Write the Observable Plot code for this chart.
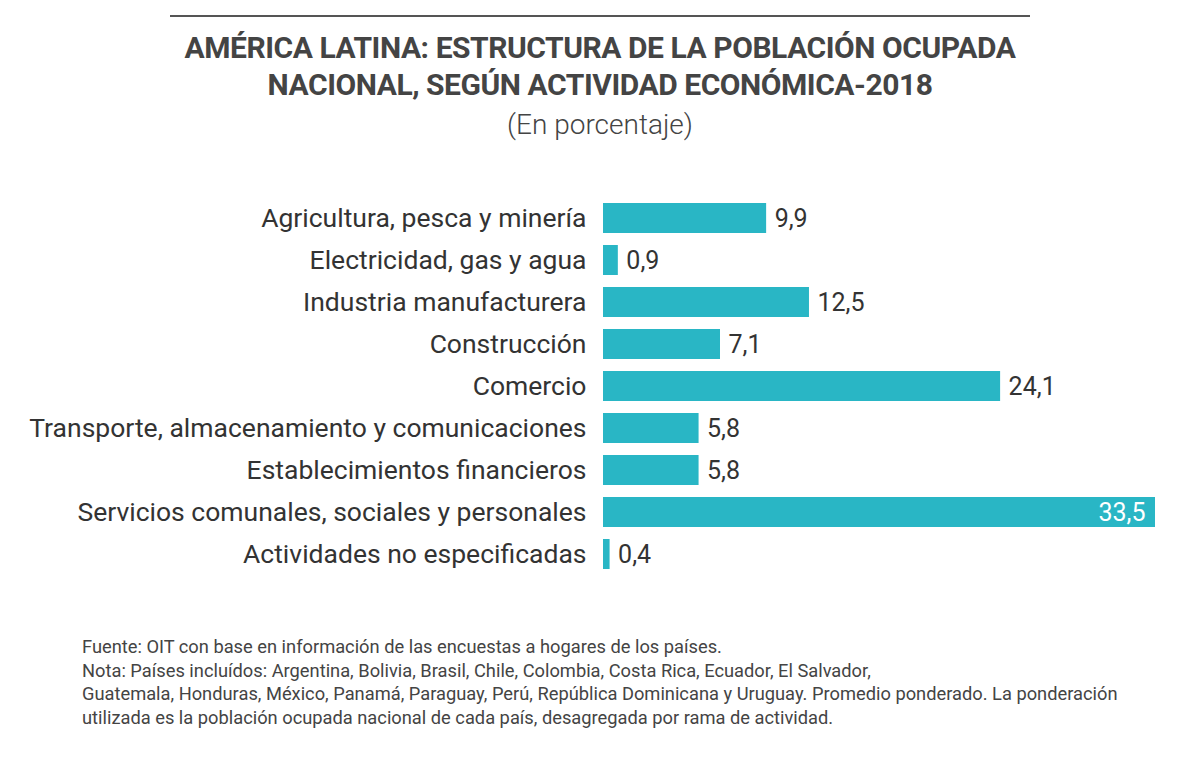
<!DOCTYPE html>
<html><head><meta charset="utf-8">
<script src="https://cdn.jsdelivr.net/npm/d3@7"></script>
<script src="https://cdn.jsdelivr.net/npm/@observablehq/plot@0.6"></script>
<style>
html,body{margin:0;padding:0;background:#fff;}
body{width:1200px;height:776px;position:relative;overflow:hidden;font-family:Roboto,"Open Sans",sans-serif;color:#404040;}
#rule{position:absolute;left:170px;top:15px;width:860px;height:2px;background:#555;}
#title{position:absolute;left:0;top:29px;width:1200px;text-align:center;font-weight:700;font-size:30px;line-height:37px;color:#444;letter-spacing:-0.45px;}
#subtitle{position:absolute;left:0;top:108px;width:1200px;text-align:center;font-weight:300;font-size:28px;color:#444;}
#chart{position:absolute;left:0;top:189px;}
#foot{position:absolute;left:82px;top:635px;font-size:18.3px;line-height:23.5px;color:#444;}
</style></head><body>
<div id="rule"></div>
<div id="title">AMÉRICA LATINA: ESTRUCTURA DE LA POBLACIÓN OCUPADA<br>NACIONAL, SEGÚN ACTIVIDAD ECONÓMICA-2018</div>
<div id="subtitle">(En porcentaje)</div>
<div id="chart"></div>
<div id="foot">Fuente: OIT con base en información de las encuestas a hogares de los países.<br>Nota: Países incluídos: Argentina, Bolivia, Brasil, Chile, Colombia, Costa Rica, Ecuador, El Salvador,<br>Guatemala, Honduras, México, Panamá, Paraguay, Perú, República Dominicana y Uruguay. Promedio ponderado. La ponderación<br>utilizada es la población ocupada nacional de cada país, desagregada por rama de actividad.</div>
<script>
const categories = [
  "Agricultura, pesca y minería",
  "Electricidad, gas y agua",
  "Industria manufacturera",
  "Construcción",
  "Comercio",
  "Transporte, almacenamiento y comunicaciones",
  "Establecimientos financieros",
  "Servicios comunales, sociales y personales",
  "Actividades no especificadas"
];
const values = [9.9, 0.9, 12.5, 7.1, 24.1, 5.8, 5.8, 33.5, 0.4];
const valueLabels = ["9,9", "0,9", "12,5", "7,1", "24,1", "5,8", "5,8", "33,5", "0,4"];

const data = categories.map((c, i) => ({cat: c, v: values[i], lab: valueLabels[i]}));
const maxV = d3.max(values);
const outside = data.filter(d => d.v < maxV);
const inside = data.filter(d => d.v === maxV);

const chart = Plot.plot({
  width: 1200,
  height: 394,
  marginLeft: 603,
  marginRight: 45,
  marginTop: 0,
  marginBottom: 0,
  style: {fontFamily: "Roboto, sans-serif", color: "#333", background: "transparent"},
  x: {domain: [0, maxV], axis: null},
  y: {domain: categories, paddingInner: 0.29, paddingOuter: 0.3, label: null},
  marks: [
    Plot.axisY({tickSize: 0, tickPadding: 17, fontSize: 26.5, label: null, fill: "#333"}),
    Plot.barX(data, {x: "v", y: "cat", fill: "#29b6c5"}),
    Plot.text(outside, {x: "v", y: "cat", text: "lab", textAnchor: "start", dx: 8, fontSize: 25, fill: "#333"}),
    Plot.text(inside, {x: "v", y: "cat", text: "lab", textAnchor: "end", dx: -10, fontSize: 25, fill: "#fff"})
  ]
});
document.getElementById("chart").appendChild(chart);
</script>
</body></html>
